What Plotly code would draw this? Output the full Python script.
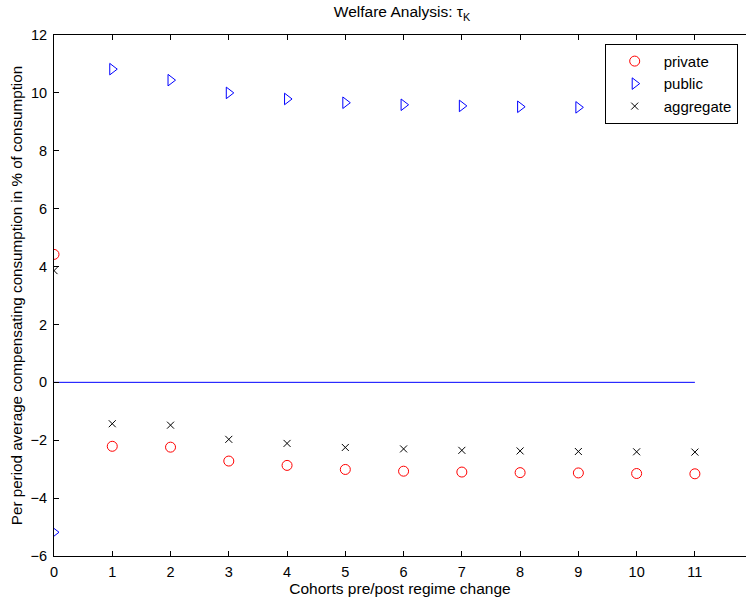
import plotly.graph_objects as go

cohorts = [0, 1, 2, 3, 4, 5, 6, 7, 8, 9, 10, 11]
private = [4.42, -2.21, -2.24, -2.72, -2.87, -3.01, -3.07, -3.10, -3.12, -3.13, -3.15, -3.16]
public = [-5.18, 10.82, 10.44, 10.00, 9.79, 9.66, 9.59, 9.55, 9.52, 9.50, 9.49, 9.48]
aggregate = [3.86, -1.43, -1.48, -1.97, -2.11, -2.25, -2.30, -2.35, -2.37, -2.39, -2.40, -2.41]
zero_line_x = [0, 11]
zero_line_y = [0, 0]

y_ticks = [-6, -4, -2, 0, 2, 4, 6, 8, 10, 12]
x_ticks = [0, 1, 2, 3, 4, 5, 6, 7, 8, 9, 10, 11]

font_family = "Liberation Sans, Arial, Helvetica, sans-serif"

fig = go.Figure()
fig.add_trace(go.Scatter(x=cohorts, y=private, mode="markers", name="private",
                         marker=dict(symbol="circle-open", size=10, color="red",
                                     line=dict(width=1, color="red"))))
fig.add_trace(go.Scatter(x=cohorts, y=public, mode="markers", name="public",
                         marker=dict(symbol="triangle-right-open", size=10, color="blue",
                                     line=dict(width=1, color="blue"))))
fig.add_trace(go.Scatter(x=cohorts, y=aggregate, mode="markers", name="aggregate",
                         marker=dict(symbol="x-thin-open", size=7, color="black",
                                     line=dict(width=1, color="black"))))
fig.add_trace(go.Scatter(x=zero_line_x, y=zero_line_y, mode="lines", showlegend=False,
                         line=dict(color="blue", width=1), hoverinfo="skip"))

fig.update_layout(
    width=746, height=600,
    paper_bgcolor="white", plot_bgcolor="white",
    margin=dict(l=54, r=0, t=35, b=44),
    font=dict(family=font_family, size=14, color="black"),
    title=dict(text="Welfare Analysis: τ<sub>K</sub>", x=402 / 746, xanchor="center",
               y=1 - 12 / 600, yanchor="middle", font=dict(size=15.5)),
    legend=dict(x=0.988, y=0.983, xanchor="right", yanchor="top",
                bordercolor="black", borderwidth=1, bgcolor="white",
                font=dict(size=15), itemwidth=48),
    showlegend=True,
)
fig.update_xaxes(range=[0, 11.877], tickvals=x_ticks, ticks="inside", ticklen=5,
                 tickcolor="black", showline=True, linecolor="black", linewidth=1,
                 mirror="ticks", showgrid=False, zeroline=False, ticklabelstandoff=3,
                 title=dict(text="Cohorts pre/post regime change", standoff=0,
                            font=dict(size=15.5)),
                 tickfont=dict(size=14.5))
fig.update_yaxes(range=[-6, 12], tickvals=y_ticks, ticks="inside", ticklen=5,
                 tickcolor="black", showline=True, linecolor="black", linewidth=1,
                 mirror=False, showgrid=False, zeroline=False, ticklabelstandoff=3,
                 title=dict(text="Per period average compensating consumption in % of consumption",
                            standoff=4, font=dict(size=15.2)),
                 tickfont=dict(size=14.5))

fig.write_html("out.html", config={"displayModeBar": False},
               post_script="document.body.style.margin='0';")
